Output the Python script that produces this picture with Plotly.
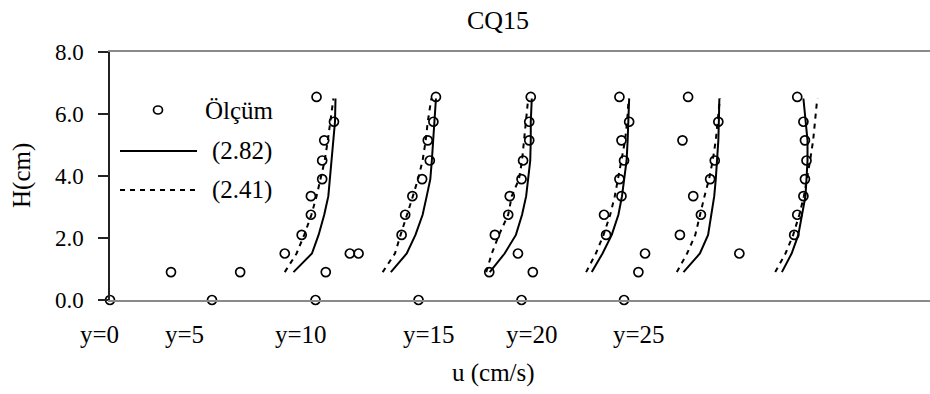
import plotly.graph_objects as go

# ---- measured depths (cm) and measured points, one list per profile ----
H_MEAS = [0.0, 0.9, 1.5, 2.1, 2.75, 3.35, 3.9, 4.5, 5.15, 5.75, 6.55]

meas_p1 = [0.0, 11.9, None, None, None, None, None, None, None, None, None]
meas_p2 = [19.9, 25.4, None, None, None, None, None, None, None, None, None]
meas_p3 = [40.1, 42.1, 34.1, 37.4, 39.2, 39.2, 41.4, 41.4, 41.8, 43.7, 40.3]
meas_p4 = [60.2, None, None, 56.9, 57.6, 59.0, 60.9, 62.4, 62.0, 63.1, 63.6]
meas_p5 = [80.3, 74.0, 79.6, 75.1, 77.7, 78.0, 80.3, 80.6, 81.8, 81.8, 82.1]
meas_p6 = [100.3, 103.1, 104.4, 96.8, 96.4, 99.8, 99.4, 100.3, 99.8, 101.3, 99.4]
meas_p7 = [None, None, 122.8, 111.2, 115.3, 113.8, 117.1, 118.0, 111.7, 118.7, 112.8]
meas_p8 = [None, None, None, 133.5, 134.1, 135.3, 135.6, 135.9, 135.6, 135.3, 134.1]

# stray measured points that sit between profiles
extra_u = [46.8, 48.5, 82.5]
extra_h = [1.5, 1.5, 0.9]

# ---- model profiles ----
H_MODEL = [0.9, 1.5, 2.1, 2.75, 3.35, 3.9, 4.5, 5.15, 5.75, 6.5]

# model (2.82), solid
m282_p3 = [35.8, 39.4, 40.7, 41.8, 42.6, 42.9, 43.3, 43.7, 43.9, 44.0]
m282_p4 = [54.8, 57.9, 59.6, 61.0, 61.8, 62.5, 62.8, 63.1, 63.3, 63.6]
m282_p5 = [74.1, 77.0, 79.2, 80.4, 81.2, 81.6, 82.0, 82.1, 82.1, 82.3]
m282_p6 = [94.0, 96.1, 97.9, 99.2, 99.9, 100.4, 100.8, 101.0, 101.1, 101.3]
m282_p7 = [111.9, 115.1, 116.7, 117.3, 117.9, 118.2, 118.5, 118.7, 118.8, 118.9]
m282_p8 = [131.1, 133.0, 134.3, 135.1, 135.7, 135.9, 136.1, 136.1, 135.8, 135.3]

# model (2.41), dashed
m241_p3 = [34.1, 36.4, 37.9, 39.3, 40.3, 41.1, 41.9, 42.5, 43.0, 43.6]
m241_p4 = [53.2, 55.6, 56.7, 58.0, 59.1, 60.1, 61.0, 61.6, 62.0, 62.7]
m241_p5 = [73.4, 74.5, 75.9, 77.7, 78.4, 79.8, 80.4, 80.8, 81.1, 81.6]
m241_p6 = [92.9, 94.8, 96.3, 97.6, 98.5, 99.1, 99.8, 100.5, 100.9, 101.2]
m241_p7 = [110.6, 112.6, 114.2, 115.1, 116.0, 116.9, 117.6, 118.2, 118.6, 119.0]
m241_p8 = [129.8, 131.8, 133.3, 134.5, 135.4, 136.0, 136.6, 137.2, 137.5, 138.0]

# section labels under the axis
X_LABELS = ["y=0", "y=5", "y=10", "y=15", "y=20", "y=25"]
X_LABEL_POS = [-2.0, 14.6, 37.3, 62.2, 82.3, 103.2]

Y_TICKS = [0, 2, 4, 6, 8]
X_RANGE = [0, 160]
Y_RANGE = [0, 8]

TITLE = "CQ15"
X_TITLE = "u (cm/s)"
Y_TITLE = "H(cm)"
LEGEND_NAMES = ["Ölçüm", "(2.82)", "(2.41)"]

# ---- layout geometry (pixels) ----
W, H = 930, 394
M_L, M_R, M_T, M_B = 110, 0, 52, 94
PW, PH = W - M_L - M_R, H - M_T - M_B

FONT = "Liberation Serif"
INK = "#000000"
TEXT_SIZE = 25


def px(xp):
    return (xp - M_L) / PW


def py(yp):
    return (H - M_B - yp) / PH


def data_to_paper_x(u):
    return (u - X_RANGE[0]) / (X_RANGE[1] - X_RANGE[0])


def joined(profiles, levels):
    xs, ys = [], []
    for prof in profiles:
        for u, h in zip(prof, levels):
            if u is not None:
                xs.append(u)
                ys.append(h)
        xs.append(None)
        ys.append(None)
    return xs, ys


fig = go.Figure()

# model curves
for profs, dash, name in [
    ([m282_p3, m282_p4, m282_p5, m282_p6, m282_p7, m282_p8], "solid", LEGEND_NAMES[1]),
    ([m241_p3, m241_p4, m241_p5, m241_p6, m241_p7, m241_p8], "5px,5px", LEGEND_NAMES[2]),
]:
    xs, ys = joined(profs, H_MODEL)
    fig.add_trace(go.Scatter(
        x=xs, y=ys, mode="lines", name=name, showlegend=False,
        line=dict(color=INK, width=2, dash=dash), connectgaps=False,
    ))

# measured points
mx, my = [], []
for prof in [meas_p1, meas_p2, meas_p3, meas_p4, meas_p5, meas_p6, meas_p7, meas_p8]:
    for u, h in zip(prof, H_MEAS):
        if u is not None:
            mx.append(u)
            my.append(h)
mx += extra_u
my += extra_h
fig.add_trace(go.Scatter(
    x=mx, y=my, mode="markers", name=LEGEND_NAMES[0], showlegend=False,
    cliponaxis=False,
    marker=dict(symbol="circle-open", size=9, color=INK, line=dict(width=1.7, color=INK)),
))

text_font = dict(family=FONT, size=TEXT_SIZE, color=INK)
annotations = []
# section labels
for lab, pos in zip(X_LABELS, X_LABEL_POS):
    annotations.append(dict(
        x=data_to_paper_x(pos), y=py(334), xref="paper", yref="paper", text=lab,
        showarrow=False, xanchor="center", yanchor="middle", font=text_font,
    ))
# axis titles
annotations.append(dict(
    x=px(493), y=py(373), xref="paper", yref="paper", text=X_TITLE, showarrow=False,
    xanchor="center", yanchor="middle", font=text_font,
))
annotations.append(dict(
    x=px(22), y=0.5, xref="paper", yref="paper", text=Y_TITLE, showarrow=False,
    textangle=-90, xanchor="center", yanchor="middle", font=text_font,
))
# legend entries
for name, xl, yl in [(LEGEND_NAMES[0], 203, 110), (LEGEND_NAMES[1], 210, 151), (LEGEND_NAMES[2], 210, 190)]:
    annotations.append(dict(
        x=px(xl), y=py(yl), xref="paper", yref="paper", text=name, showarrow=False,
        xanchor="left", yanchor="middle", font=text_font,
    ))

shapes = [
    dict(type="circle", xref="paper", yref="paper", xsizemode="pixel", ysizemode="pixel",
         xanchor=px(158), yanchor=py(110), x0=-4.5, x1=4.5, y0=-4, y1=4,
         line=dict(color=INK, width=1.7)),
    dict(type="line", xref="paper", yref="paper", x0=px(120), x1=px(197), y0=py(151), y1=py(151),
         line=dict(color=INK, width=2)),
    dict(type="line", xref="paper", yref="paper", x0=px(120), x1=px(195), y0=py(190), y1=py(190),
         line=dict(color=INK, width=2, dash="5px,5px")),
]

fig.update_layout(
    width=W, height=H,
    margin=dict(l=M_L, r=M_R, t=M_T, b=M_B, pad=0),
    paper_bgcolor="white", plot_bgcolor="white",
    showlegend=False,
    font=dict(family=FONT, color=INK),
    title=dict(text=TITLE, x=px(498), xref="paper", xanchor="center",
               y=1 - 20 / H, yref="container", yanchor="middle",
               font=dict(family=FONT, size=26, color=INK)),
    xaxis=dict(range=X_RANGE, showgrid=False, zeroline=False, showticklabels=False,
               ticks="", showline=True, mirror=True, linecolor="#8a8a8a", linewidth=2),
    yaxis=dict(range=Y_RANGE, tickvals=Y_TICKS, tickformat=".1f", showgrid=False,
               zeroline=False, showline=True, linecolor="#222222", linewidth=1.5,
               ticks="outside", ticklen=10, tickwidth=1.5, tickcolor="#222222",
               ticklabelstandoff=10,
               tickfont=dict(family=FONT, size=23, color=INK)),
    annotations=annotations,
    shapes=shapes,
)

fig.write_html("out.html")
